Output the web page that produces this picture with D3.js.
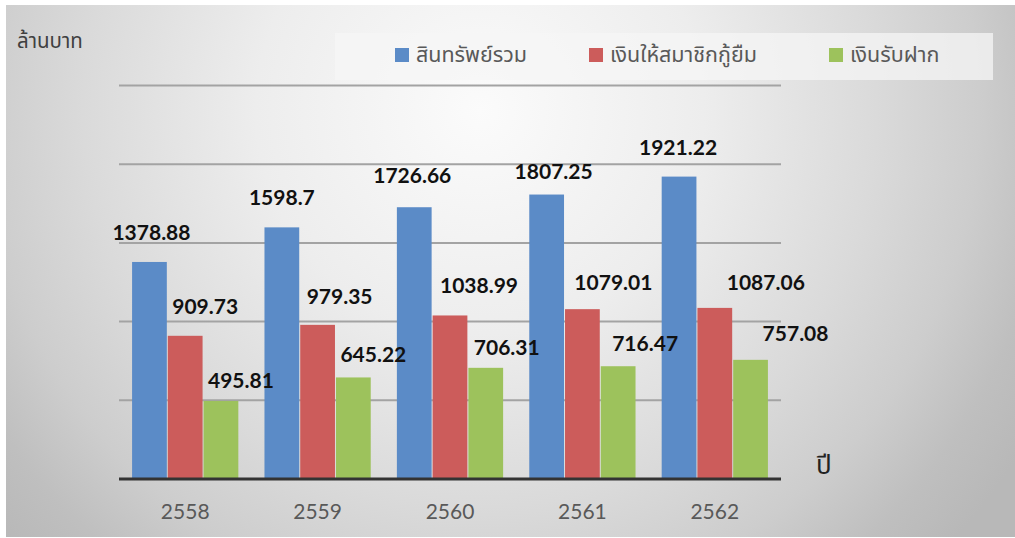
<!DOCTYPE html>
<html>
<head>
<meta charset="utf-8">
<script src="https://cdn.jsdelivr.net/npm/d3@7"></script>
<style>
	html, body { margin: 0; padding: 0; background: #fff; }
	svg { display: block; }
</style>
</head>
<body>
<svg id="chart"></svg>
<script>
var width = 1015,
	height = 538;

// data
var years = ["2558", "2559", "2560", "2561", "2562"];
var seriesNames = ["สินทรัพย์รวม", "เงินให้สมาชิกกู้ยืม", "เงินรับฝาก"];
var totalAssets = [1378.88, 1598.7, 1726.66, 1807.25, 1921.22];
var memberLoans = [909.73, 979.35, 1038.99, 1079.01, 1087.06];
var deposits = [495.81, 645.22, 706.31, 716.47, 757.08];
var yTicks = [0, 500, 1000, 1500, 2000, 2500];
var seriesColors = ["#5b8bc7", "#cc5c5b", "#9dc25c"];

// hand nudges for the value labels (px from bar centre / bar top)
var labelDx = [[2, 0, -2, 7, -1], [20, 22, 29, 31, 51], [20, 20, 21, 27, 45]];
var labelDy = [[-30, -30, -32, -23, -29], [-29, -28, -30, -27, -25], [-21, -23, -20, -23, -26]];

var seriesValues = [totalAssets, memberLoans, deposits];
var thaiFont = "'Noto Sans Thai', 'Noto Sans', 'DejaVu Sans', sans-serif";

var svg = d3.select("#chart").attr("width", width).attr("height", height);

// background gradient
var defs = svg.append("defs");
var grad = defs.append("radialGradient")
	.attr("id", "bg")
	.attr("gradientUnits", "userSpaceOnUse")
	.attr("cx", 480).attr("cy", 110).attr("r", 640);
grad.append("stop").attr("offset", 0).attr("stop-color", "#fbfbfb");
grad.append("stop").attr("offset", 0.35).attr("stop-color", "#ededed");
grad.append("stop").attr("offset", 0.62).attr("stop-color", "#dadada");
grad.append("stop").attr("offset", 0.78).attr("stop-color", "#cdcdcd");
grad.append("stop").attr("offset", 0.9).attr("stop-color", "#bfbfbf");
grad.append("stop").attr("offset", 1).attr("stop-color", "#b8b8b8");

svg.append("rect")
	.attr("x", 6).attr("y", 5)
	.attr("width", width - 6).attr("height", height - 6)
	.attr("fill", "url(#bg)");

// scales
var x0 = d3.scaleBand().domain(years).range([119, 781]).paddingInner(0.19).paddingOuter(0.095);
var x1 = d3.scaleBand().domain(d3.range(seriesNames.length)).range([0, x0.bandwidth()]);
var y = d3.scaleLinear().domain([0, 2500]).range([479, 85.5]);

// gridlines
svg.append("g").selectAll("line")
	.data(yTicks.filter(function(d){ return d > 0; }))
	.enter().append("line")
	.attr("x1", 119).attr("x2", 781)
	.attr("y1", function(d){ return y(d); })
	.attr("y2", function(d){ return y(d); })
	.attr("stroke", "#a3a3a3")
	.attr("stroke-width", 2);

// legend box
svg.append("rect")
	.attr("x", 335).attr("y", 33)
	.attr("width", 658).attr("height", 47)
	.attr("fill", "#f6f6f6").attr("opacity", 0.75);

// flatten values for bars and labels
var cells = [];
years.forEach(function(yr, i){
	seriesValues.forEach(function(s, k){
		cells.push({year: yr, i: i, k: k, v: s[i]});
	});
});

// bars
svg.append("g").selectAll("rect")
	.data(cells)
	.enter().append("rect")
	.attr("x", function(d){ return x0(d.year) + x1(d.k) + 0.5; })
	.attr("width", x1.bandwidth() - 1)
	.attr("y", function(d){ return y(d.v); })
	.attr("height", function(d){ return y(0) - y(d.v); })
	.attr("fill", function(d){ return seriesColors[d.k]; });

// baseline
svg.append("line")
	.attr("x1", 119).attr("x2", 781)
	.attr("y1", y(0)).attr("y2", y(0))
	.attr("stroke", "#333")
	.attr("stroke-width", 3);

// value labels, on top of all bars
svg.append("g").selectAll("text")
	.data(cells)
	.enter().append("text")
	.attr("x", function(d){ return x0(d.year) + x1(d.k) + x1.bandwidth() / 2 + labelDx[d.k][d.i]; })
	.attr("y", function(d){ return y(d.v) + labelDy[d.k][d.i]; })
	.attr("dy", "0.36em")
	.attr("text-anchor", "middle")
	.style("font-family", "Lato, 'Open Sans', sans-serif")
	.style("font-weight", "bold")
	.style("font-size", "21px")
	.attr("fill", "#111")
	.text(function(d){ return d.v; });

// x axis labels
svg.append("g")
	.attr("transform", "translate(0," + (y(0) + 32) + ")")
	.call(d3.axisBottom(x0).tickSize(0).tickPadding(0))
	.call(function(g){ g.select(".domain").remove(); })
	.selectAll("text")
	.style("font-family", "Lato, 'Open Sans', sans-serif")
	.style("font-size", "21px")
	.attr("fill", "#595959")
	.attr("dy", "0.36em");

// axis titles
svg.append("text")
	.attr("x", 17).attr("y", 48)
	.style("font-family", thaiFont)
	.style("font-size", "20.5px")
	.attr("fill", "#404040")
	.text("ล้านบาท");

svg.append("text")
	.attr("x", 816).attr("y", 474)
	.style("font-family", thaiFont)
	.style("font-size", "26px")
	.attr("fill", "#222")
	.text("ปี");

// legend
var legendX = [395, 589, 829];
var legend = svg.append("g").selectAll("g")
	.data(seriesNames)
	.enter().append("g")
	.attr("transform", function(d, i){ return "translate(" + legendX[i] + ",48)"; });

legend.append("rect")
	.attr("width", 14).attr("height", 14)
	.attr("fill", function(d, i){ return seriesColors[i]; });

legend.append("text")
	.attr("x", 21).attr("y", 14)
	.style("font-family", thaiFont)
	.style("font-size", "21.5px")
	.attr("fill", "#595959")
	.text(function(d){ return d; });
</script>
</body>
</html>
